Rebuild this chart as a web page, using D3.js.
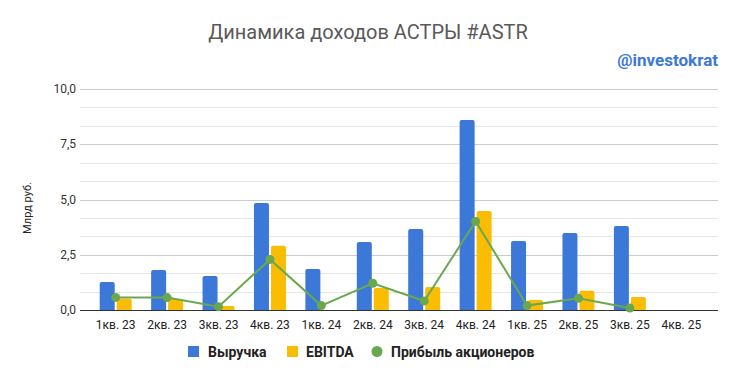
<!DOCTYPE html>
<html>
<head>
<meta charset="utf-8">
<script src="https://cdn.jsdelivr.net/npm/d3@7"></script>
<style>
  body { margin: 0; background: #fff; }
  text { font-family: Roboto, Arial, sans-serif; }
</style>
</head>
<body>
<svg id="chart"></svg>
<script>
const quarters = ["1кв. 23", "2кв. 23", "3кв. 23", "4кв. 23", "1кв. 24", "2кв. 24",
                  "3кв. 24", "4кв. 24", "1кв. 25", "2кв. 25", "3кв. 25", "4кв. 25"];
const revenue = [1.27, 1.81, 1.54, 4.84, 1.86, 3.08, 3.66, 8.6, 3.12, 3.48, 3.80, null];
const ebitda  = [0.51, 0.50, 0.18, 2.91, 0, 0.99, 1.04, 4.48, 0.45, 0.87, 0.59, null];
const profit  = [0.57, 0.56, 0.15, 2.29, 0.2, 1.21, 0.41, 4.01, 0.2, 0.53, 0.09, null];
const yTicks = [0, 2.5, 5, 7.5, 10];
const legendNames = ["Выручка", "EBITDA", "Прибыль акционеров"];

function makeChart() {
    let w = 736;
    let h = 378;
    const blue = "#3c78d8", yellow = "#fbbc04", green = "#6aa84f";

    let svg = d3.select('#chart')
        .attr('width', w)
        .attr('height', h);

    let xScale = d3.scaleBand()
        .domain(quarters)
        .range([90, 707]);

    let yScale = d3.scaleLinear()
        .domain([0, 10])
        .range([310, 89]);

    // gridlines: major at labelled ticks, two minor lines between each
    let minor = d3.range(0, 13).map(i => i * 10 / 12);
    svg.append('g')
        .selectAll('line')
        .data(minor)
        .enter()
        .append('line')
        .attr('x1', 80).attr('x2', 718)
        .attr('y1', d => Math.round(yScale(d)) + 0.5)
        .attr('y2', d => Math.round(yScale(d)) + 0.5)
        .attr('stroke', (d, i) => i % 3 === 0 ? '#cccccc' : '#e6e6e6')
        .attr('stroke-width', 1);

    // y labels
    svg.append('g')
        .selectAll('text')
        .data(yTicks)
        .enter()
        .append('text')
        .attr('x', 76)
        .attr('y', d => yScale(d) + 4)
        .attr('text-anchor', 'end')
        .attr('font-size', 12)
        .attr('fill', '#333')
        .text(d => d3.format('.1f')(d).replace('.', ','));

    svg.append('text')
        .attr('transform', 'translate(31,208) rotate(-90)')
        .attr('text-anchor', 'middle')
        .attr('font-size', 11)
        .attr('fill', '#222')
        .text('Млрд руб.');

    let barW = 15;
    let bar = (x, y, width, val) => {
        let top = yScale(val), bottom = yScale(0), r = Math.min(2, bottom - top);
        return `M${x},${bottom}V${top + r}Q${x},${top} ${x + r},${top}H${x + width - r}Q${x + width},${top} ${x + width},${top + r}V${bottom}Z`;
    };

    let groups = svg.append('g');
    groups.selectAll('path.rev')
        .data(quarters.map((q, i) => ({ q, v: revenue[i] })).filter(d => d.v))
        .enter()
        .append('path')
        .attr('class', 'rev')
        .attr('fill', blue)
        .attr('d', d => bar(xScale(d.q) + xScale.bandwidth() / 2 - barW - 1, 0, barW, d.v));

    groups.selectAll('path.ebitda')
        .data(quarters.map((q, i) => ({ q, v: ebitda[i] })).filter(d => d.v))
        .enter()
        .append('path')
        .attr('class', 'ebitda')
        .attr('fill', yellow)
        .attr('d', d => bar(xScale(d.q) + xScale.bandwidth() / 2 + 1, 0, barW, d.v));

    // baseline
    svg.append('line')
        .attr('x1', 80).attr('x2', 718)
        .attr('y1', 310.5).attr('y2', 310.5)
        .attr('stroke', '#333').attr('stroke-width', 1.2);

    let profitData = quarters.map((q, i) => ({ q, v: profit[i] })).filter(d => d.v !== null);
    let line = d3.line()
        .x(d => xScale(d.q) + xScale.bandwidth() / 2)
        .y(d => yScale(d.v));
    svg.append('path')
        .datum(profitData)
        .attr('d', line)
        .attr('fill', 'none')
        .attr('stroke', green)
        .attr('stroke-width', 2);
    svg.selectAll('circle.pt')
        .data(profitData)
        .enter()
        .append('circle')
        .attr('class', 'pt')
        .attr('cx', d => xScale(d.q) + xScale.bandwidth() / 2)
        .attr('cy', d => yScale(d.v))
        .attr('r', 4.5)
        .attr('fill', green);

    // x labels
    svg.append('g')
        .selectAll('text')
        .data(quarters)
        .enter()
        .append('text')
        .attr('x', d => xScale(d) + xScale.bandwidth() / 2)
        .attr('y', 329)
        .attr('text-anchor', 'middle')
        .attr('font-size', 12)
        .attr('fill', '#222')
        .text(d => d);

    // title
    svg.append('text')
        .attr('x', 368).attr('y', 39)
        .attr('text-anchor', 'middle')
        .attr('font-size', 20)
        .attr('fill', '#595959')
        .text('Динамика доходов АСТРЫ #ASTR');

    svg.append('text')
        .attr('x', 718).attr('y', 66)
        .attr('text-anchor', 'end')
        .attr('font-size', 17)
        .attr('font-weight', 'bold')
        .attr('fill', '#3c78d8')
        .text('@investokrat');

    // legend
    let legend = svg.append('g').attr('font-size', 14).attr('font-weight', 'bold').attr('fill', '#222');
    legend.append('rect').attr('x', 188).attr('y', 346).attr('width', 11).attr('height', 11).attr('fill', blue);
    legend.append('text').attr('x', 208).attr('y', 357).text(legendNames[0]);
    legend.append('rect').attr('x', 287).attr('y', 346).attr('width', 11).attr('height', 11).attr('fill', yellow);
    legend.append('text').attr('x', 306).attr('y', 357).text(legendNames[1]);
    legend.append('circle').attr('cx', 377).attr('cy', 351.5).attr('r', 5.5).attr('fill', green);
    legend.append('text').attr('x', 391).attr('y', 357).text(legendNames[2]);
}

window.onload = function() {
    makeChart();
}
</script>
</body>
</html>
